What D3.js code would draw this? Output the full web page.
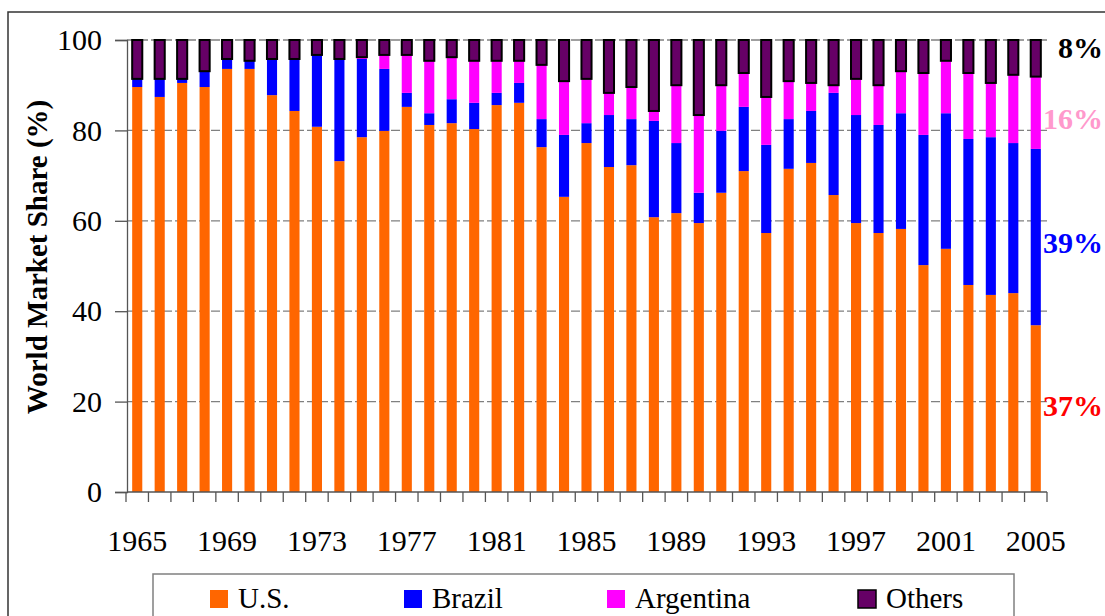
<!DOCTYPE html>
<html><head><meta charset="utf-8">
<script src="https://cdn.jsdelivr.net/npm/d3@7"></script>
<style>
html,body{margin:0;padding:0;background:#fff;}
svg{display:block;}
svg text{font-family:'Liberation Serif','Times New Roman',Tinos,'DejaVu Serif',serif !important;}
</style></head>
<body>
<svg id="chart" width="1105" height="616"></svg>
<script>
const years = [1965,1966,1967,1968,1969,1970,1971,1972,1973,1974,1975,1976,1977,1978,1979,1980,1981,1982,1983,1984,1985,1986,1987,1988,1989,1990,1991,1992,1993,1994,1995,1996,1997,1998,1999,2000,2001,2002,2003,2004,2005];
const us = [89.6,87.4,90.5,89.6,93.6,93.6,87.8,84.3,80.8,73.2,78.5,79.9,85.2,81.2,81.6,80.3,85.6,86.1,76.3,65.3,77.2,71.9,72.3,60.8,61.7,59.5,66.2,71.0,57.3,71.5,72.8,65.7,59.5,57.3,58.2,50.2,53.8,45.8,43.6,44.0,36.9];
const brazil = [1.8,4.0,0.9,3.5,2.2,1.8,8.0,11.5,15.9,22.6,17.3,13.7,3.1,2.6,5.3,5.8,2.7,4.4,6.2,13.7,4.4,11.5,10.2,21.3,15.5,6.7,13.7,14.2,19.5,11.0,11.5,22.6,23.9,23.9,25.6,28.8,30.0,32.3,34.9,33.2,39.0];
const argentina = [0,0,0,0,0,0,0,0,0,0,0.4,3.1,8.4,11.6,9.3,9.3,7.1,4.9,12.0,11.9,9.8,4.9,7.1,2.2,12.8,17.2,10.1,7.5,10.6,8.4,6.2,1.7,8.0,8.8,9.3,13.7,11.6,14.6,12.0,15.1,16.0];
const others = [8.6,8.6,8.6,6.9,4.2,4.6,4.2,4.2,3.3,4.2,3.8,3.3,3.3,4.6,3.8,4.6,4.6,4.6,5.5,9.1,8.6,11.7,10.4,15.7,10.0,16.6,10.0,7.3,12.6,9.1,9.5,10.0,8.6,10.0,6.9,7.3,4.6,7.3,9.5,7.7,8.1];
const seriesNames = ["U.S.","Brazil","Argentina","Others"];
const yTicks = [0,20,40,60,80,100];
const xTickLabels = [1965,1969,1973,1977,1981,1985,1989,1993,1997,2001,2005];
const endLabels = ["37%","39%","16%","8%"];

const colors = ["#FF6600","#0000FF","#FF00FF","#660066"];
const endColors = ["#FF0000","#0000FF","#FF99CC","#000000"];
const FONT = "'Liberation Serif','Times New Roman',Tinos,'DejaVu Serif',serif";

const svg = d3.select("#chart");

// outer border
svg.append("rect").attr("x",8).attr("y",12).attr("width",1110).attr("height",620)
  .attr("fill","none").attr("stroke","#333").attr("stroke-width",1.5);

const x = d3.scaleBand().domain(years).range([126,1047]).paddingInner(0.55).paddingOuter(0.275);
const y = d3.scaleLinear().domain([0,100]).range([492,40]);

// gridlines
svg.append("g").selectAll("line").data(yTicks.filter(d=>d>0)).join("line")
  .attr("x1",127).attr("x2",1047).attr("y1",d=>y(d)).attr("y2",d=>y(d))
  .attr("stroke","#808080").attr("stroke-width",1.3).attr("stroke-dasharray","9,3");

// stack
const table = years.map((yr,i)=>({year:yr,"U.S.":us[i],"Brazil":brazil[i],"Argentina":argentina[i],"Others":others[i]}));
const stacked = d3.stack().keys(seriesNames)(table);

stacked.forEach((layer,li)=>{
  svg.append("g").selectAll("rect").data(layer).join("rect")
    .attr("x",d=>x(d.data.year)).attr("width",x.bandwidth())
    .attr("y",d=>y(d[1])).attr("height",d=>Math.max(0,y(d[0])-y(d[1])))
    .attr("fill",colors[li])
    .attr("stroke",li===3?"#000":"none").attr("stroke-width",li===3?2:0);
});

// y axis
const yAxis = svg.append("g").attr("transform","translate(127,0)")
  .call(d3.axisLeft(y).tickValues(yTicks).tickSize(12).tickPadding(13));
yAxis.attr("font-family",FONT).attr("font-size",30);
yAxis.select(".domain").attr("stroke","#555").attr("stroke-width",1.3);
yAxis.selectAll(".tick line").attr("stroke","#555").attr("stroke-width",1.3);
yAxis.selectAll("text").attr("font-size",30).attr("fill","#000");

// x axis line
svg.append("line").attr("x1",127).attr("x2",1047).attr("y1",492).attr("y2",492)
  .attr("stroke","#555").attr("stroke-width",1.3);
// x ticks at band boundaries
const bounds = years.map(yr=>x(yr)-x.step()*x.paddingInner()/2);
bounds.push(1047);
svg.append("g").selectAll("line").data(bounds).join("line")
  .attr("x1",d=>d).attr("x2",d=>d).attr("y1",492).attr("y2",502)
  .attr("stroke","#555").attr("stroke-width",1.3);
svg.append("g").selectAll("text").data(xTickLabels).join("text")
  .attr("x",d=>x(d)+x.bandwidth()/2).attr("y",551).attr("text-anchor","middle")
  .attr("font-size",30).attr("fill","#000").text(d=>d);

// y title
svg.append("text").attr("transform","translate(47,257) rotate(-90)")
  .attr("text-anchor","middle").attr("font-size",29).attr("font-weight","bold")
  .text("World Market Share (%)");

// end labels
const last = stacked.map(l=>l[l.length-1]);
const dys = [7,16,16,0];
endLabels.forEach((t,i)=>{
  const yy = i===3 ? y(100)+18 : y((last[i][0]+last[i][1])/2)+dys[i];
  svg.append("text").attr("x",1103).attr("y",yy).attr("text-anchor","end")
    .attr("font-size",30).attr("font-weight","bold").attr("fill",endColors[i]).text(t);
});

// legend
svg.append("rect").attr("x",153).attr("y",574).attr("width",861).attr("height",60)
  .attr("fill","#fff").attr("stroke","#808080").attr("stroke-width",1.5);
const legX = [210,404,607,858];
seriesNames.forEach((n,i)=>{
  svg.append("rect").attr("x",legX[i]).attr("y",590).attr("width",18).attr("height",18)
    .attr("fill",colors[i]).attr("stroke",i===3?"#000":"none").attr("stroke-width",i===3?1.5:0);
  svg.append("text").attr("x",legX[i]+28).attr("y",608).attr("font-size",29).attr("fill","#000").text(n);
});
svg.selectAll("text").attr("font-family",FONT);
</script>
</body></html>
